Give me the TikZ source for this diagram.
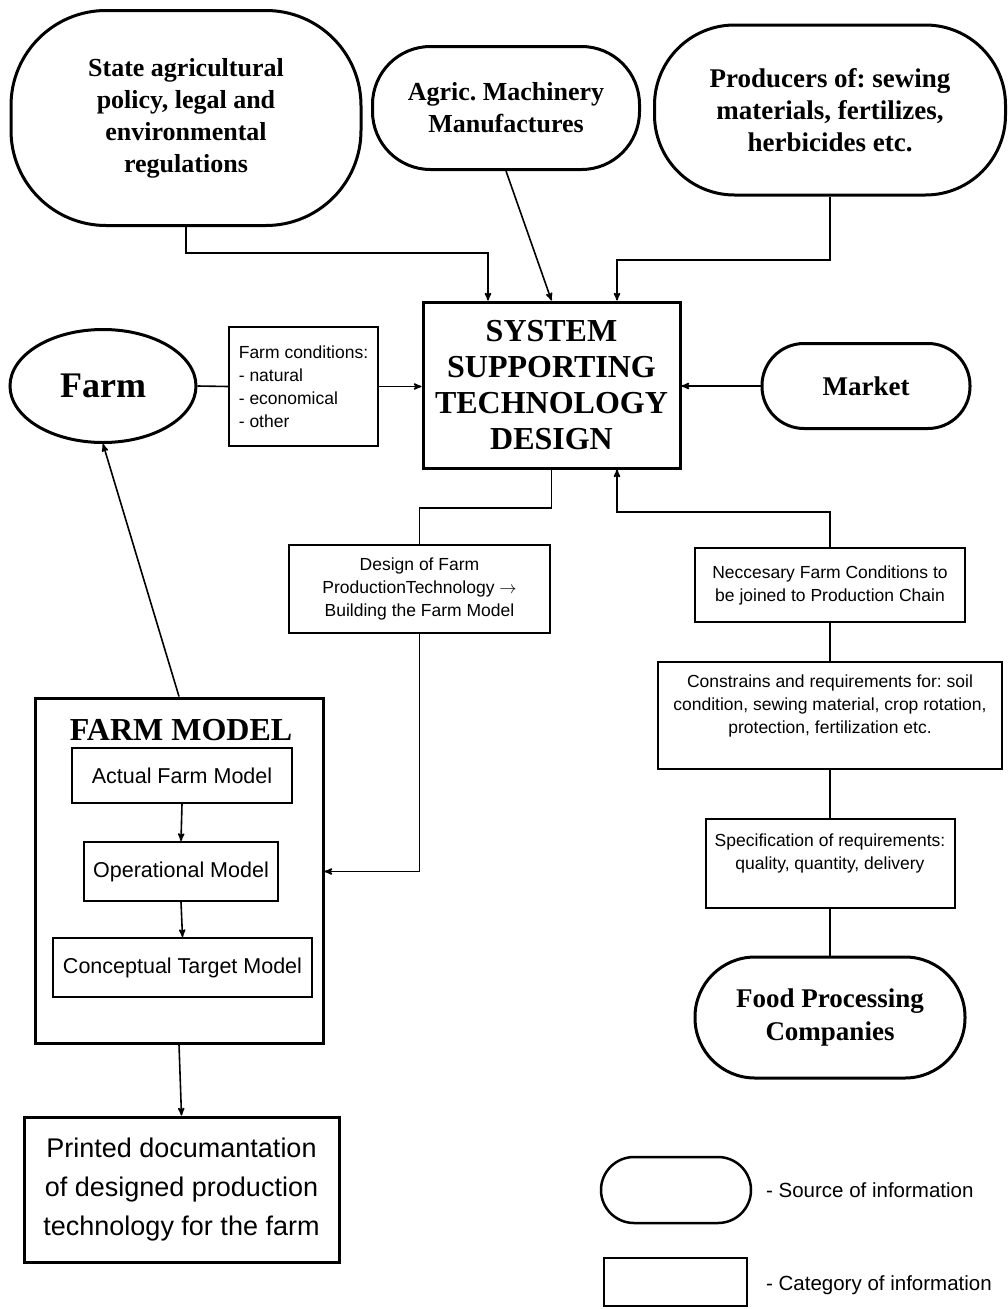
\documentclass[tikz,border=0pt]{standalone}
\usepackage{fontspec}
\setmainfont{Liberation Serif}
\setsansfont{Liberation Sans}
\frenchspacing
\usetikzlibrary{arrows, shapes, calc}
\tikzset{>=stealth'}
\tikzset{flow/.style={line width=1.6pt}}
\tikzset{source/.style={draw, line width=3pt, align=center, inner sep=0pt,
    font=\bfseries\fontsize{26}{32}\selectfont}}
\tikzset{category/.style={draw, line width=2pt, align=center, inner sep=0pt,
    font=\sffamily\fontsize{17.5}{23}\selectfont}}
\tikzset{modelbox/.style={draw, line width=2pt, inner sep=0pt,
    font=\sffamily\fontsize{21.5}{24}\selectfont}}

\begin{document}
\begin{tikzpicture}[x=1pt, y=-1pt, flow]
  \useasboundingbox (0,0) rectangle (1008,1309);
  %%%%% sources on top
  \node[source, rounded corners=95, minimum width=350, minimum height=215]
    (state) at (186,118) {State agricultural\\policy, legal and\\environmental\\regulations};
  \node[source, rounded corners=58, minimum width=267, minimum height=123]
    (agric) at (506,108) {Agric. Machinery\\Manufactures};
  \node[source, rounded corners=80, minimum width=351, minimum height=170,
    font=\bfseries\fontsize{27}{32}\selectfont]
    (producers) at (830,110) {Producers of: sewing\\materials, fertilizes,\\herbicides etc.};
  %%%%% middle row
  \node[draw, line width=3pt, align=center, inner sep=0pt,
    minimum width=257, minimum height=166,
    font=\bfseries\fontsize{32}{36}\selectfont]
    (sstd) at (551.5,385) {SYSTEM\\SUPPORTING\\TECHNOLOGY\\DESIGN};
  \node[source, ellipse, minimum width=186, minimum height=113,
    font=\bfseries\fontsize{36}{40}\selectfont] (farm) at (103,386) {Farm};
  \node[category, align=left, minimum width=149, minimum height=119]
    (cond) at (303.5,386.5) {Farm conditions:\\- natural\\- economical\\- other};
  \node[source, rounded corners=42, minimum width=208, minimum height=85,
    font=\bfseries\fontsize{27}{32}\selectfont]
    (market) at (866,386) {Market};
  %%%%% categories
  \node[category, minimum width=261, minimum height=88]
    (design) at (419.5,589) {Design of Farm\\ProductionTechnology $\rightarrow$\\Building the Farm Model};
  \node[category, minimum width=270, minimum height=74]
    (necc) at (830,585) {Neccesary Farm Conditions to\\be joined to Production Chain};
  \node[category, minimum width=344, minimum height=107]
    (constr) at (830,715.5) {Constrains and requirements for: soil\\condition, sewing material, crop rotation,\\protection, fertilization etc.\\ ~};
  \node[category, minimum width=249, minimum height=89]
    (spec) at (830,863.5) {Specification of requirements:\\quality, quantity, delivery\\ ~};
  \node[source, rounded corners=60, minimum width=270, minimum height=121,
    font=\bfseries\fontsize{27}{33}\selectfont]
    (food) at (830,1017.5) {Food Processing\\Companies};
  %%%%% farm model
  \node[draw, line width=3pt, minimum width=288, minimum height=345]
    (fmodel) at (179,870.5) {};
  \node[font=\bfseries\fontsize{32}{36}\selectfont] (title) at (181,730) {FARM MODEL};
  \node[modelbox, minimum width=220, minimum height=55] (actual) at (182,775.5) {Actual Farm Model};
  \node[modelbox, minimum width=194, minimum height=59] (oper) at (181,871.5) {Operational Model};
  \node[modelbox, minimum width=259, minimum height=59] (concept) at (182.5,967.5) {Conceptual Target Model};
  \node[draw, line width=3pt, align=center, inner sep=0pt,
    minimum width=315, minimum height=145,
    font=\sffamily\fontsize{27}{39}\selectfont]
    (printed) at (181.5,1189.5) {Printed documantation\\of designed production\\technology for the farm};
  %%%%% legend
  \node[draw, line width=2.5pt, rounded corners=33, minimum width=150, minimum height=66]
    (legsrc) at (676,1190) {};
  \node[draw, line width=2pt, minimum width=143, minimum height=48]
    (legcat) at (675.5,1282) {};
  \node[anchor=west, font=\sffamily\fontsize{20.5}{23}\selectfont]
    (legsrctext) at (762,1190) {- Source of information};
  \node[anchor=west, font=\sffamily\fontsize{20.5}{23}\selectfont]
    (legcattext) at (762,1285) {- Category of information};
  %%%%% connectors
  \coordinate (jA) at (488,253);
  \coordinate (jB) at (617,260);
  \coordinate (jC) at (419.5,508);
  \coordinate (jD) at (617,512);
  \draw[->] (state.south) |- (jA) -- (jA |- sstd.north);
  \draw[->] (agric.south) -- (sstd.north);
  \draw[->] (producers.south) |- (jB) -- (jB |- sstd.north);
  \draw (farm.east) -- (cond.west);
  \draw[->] (cond.east) -- (cond.east -| sstd.west);
  \draw[->] (market.west) -- (market.west -| sstd.east);
  \draw (sstd.south) |- (jC) -- (design.north);
  \draw[->] (design.south) |- (fmodel.east |- oper.east);
  \draw[->] (necc.north) |- (jD) -- (jD |- sstd.south);
  \draw (necc.south) -- (constr.north);
  \draw (constr.south) -- (spec.north);
  \draw (spec.south) -- (food.north);
  \draw[->] (fmodel.north) -- (farm.south);
  \draw[->] (actual.south) -- (oper.north);
  \draw[->] (oper.south) -- (concept.north);
  \draw[->] (fmodel.south) -- (printed.north);
\end{tikzpicture}
\end{document}
